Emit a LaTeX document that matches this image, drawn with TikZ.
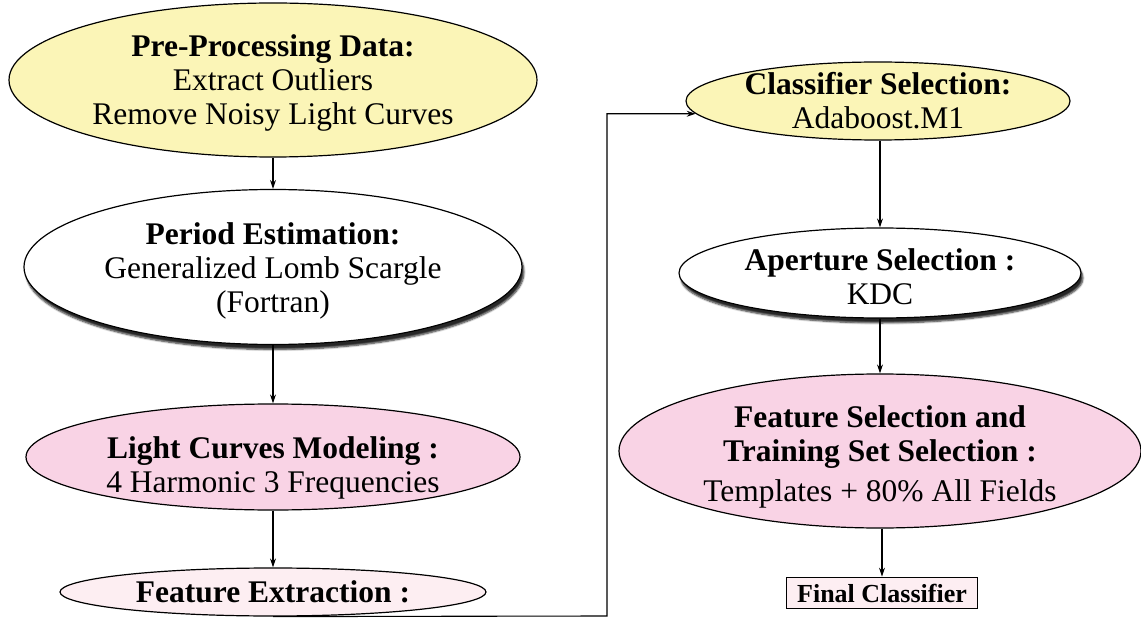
\documentclass[tikz,border=0pt]{standalone}
\usepackage{fontspec}
\setmainfont{Liberation Serif}
\usetikzlibrary{shapes.geometric,arrows.meta,shadows,shadows.blur}
\definecolor{ylw}{HTML}{FBF5B7}
\definecolor{pnk}{HTML}{F9D3E5}
\definecolor{lpk}{HTML}{FDEEF2}
\begin{document}
\begin{tikzpicture}[x=1pt,y=-1pt,
  el/.style={ellipse,draw,line width=1.2pt,inner sep=0pt},
  txt/.style={align=center,inner sep=0pt,font=\fontsize{31.5}{34}\selectfont},
  arr/.style={line width=1.1pt,-{Stealth[length=9pt,width=6pt]}},
  shad/.style={blur shadow={shadow xshift=2pt,shadow yshift=-5pt,shadow blur steps=6,shadow opacity=85}}]
\useasboundingbox (0,0) rectangle (1141,620);

% left column
\node[el,fill=ylw,minimum width=528pt,minimum height=154pt] (pre) at (273,80) {};
\node[txt] (pret) at (273,83)
  {\textbf{Pre-Processing Data:}\\Extract Outliers\\Remove Noisy Light Curves};
\node[el,fill=white,shad,minimum width=498pt,minimum height=155pt] (per) at (273,267) {};
\node[txt] (pert) at (273,271)
  {\textbf{Period Estimation:}\\Generalized Lomb Scargle\\(Fortran)};
\node[el,fill=pnk,minimum width=494pt,minimum height=106pt] (lcm) at (273,457) {};
\node[txt] (lcmt) at (273,468)
  {\textbf{Light Curves Modeling :}\\4 Harmonic 3 Frequencies};
\node[el,fill=lpk,minimum width=426pt,minimum height=48pt] (fe) at (273,592) {};
\node[txt] (fet) at (273,592) {\textbf{Feature Extraction :}};

% right column
\node[el,fill=ylw,minimum width=384pt,minimum height=78pt] (cls) at (878,101) {};
\node[txt] (clst) at (878,101) {\textbf{Classifier Selection:}\\Adaboost.M1};
\node[el,fill=white,shad,minimum width=402pt,minimum height=90pt] (ap) at (880,273) {};
\node[txt] (apt) at (880,277) {\textbf{Aperture Selection :}\\KDC};
\node[el,fill=pnk,minimum width=522pt,minimum height=154pt] (fs) at (880,451) {};
\node[txt] (fst) at (880,457)
  {\textbf{Feature Selection and}\\\textbf{Training Set Selection :}\\[6pt]Templates + 80\% All Fields};
\node[draw,line width=1.8pt,fill=lpk,minimum width=191pt,minimum height=31pt,inner sep=0pt,
  font=\fontsize{26}{28}\selectfont\bfseries] (fc) at (882,593) {Final Classifier};

% connectors
\draw[arr] (pre) -- (per);
\draw[arr] (per) -- (lcm);
\draw[arr] (lcm) -- (fe);
\coordinate (j) at (607,616);
\draw[arr] (fe.south) -- (j) |- (cls.184);
\draw[arr] (cls.south -| ap) -- (ap);
\draw[arr] (ap) -- (fs);
\draw[arr] (fs.south -| fc) -- (fc);
\end{tikzpicture}
\end{document}
